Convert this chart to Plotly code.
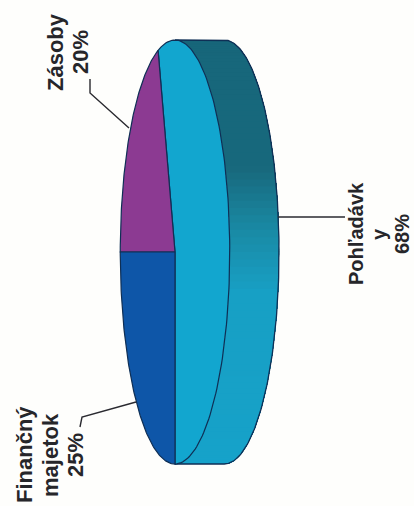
import numpy as np
import plotly.graph_objects as go

# Data
categories = ["Pohľadávky", "Zásoby", "Finančný majetok"]
drawn_shares = [55, 20, 25]          # share of the drawn slices
slice_colors = ["#12A6CF", "#8C3A92", "#0E56A8"]
outline = "#0F2F55"
paper = "#FEFEFC"

# Unit pie seen at a tilt and turned on its side
START_DEG = -90
DEPTH = 0.9
wall_stops = [(0.0, "#17667A"), (0.37, "#18697D"), (0.47, "#1A8BA6"), (0.56, "#18A0C5"), (1.0, "#16A3CB")]

W, H = 414, 506
CX, CY, RX, RY = 175, 252, 54.75, 212


def hex_rgb(c):
    return np.array([int(c[i:i + 2], 16) for i in (1, 3, 5)], float)


def wall_color(f):
    for (a, ca), (b, cb) in zip(wall_stops, wall_stops[1:]):
        if f <= b:
            m = (f - a) / (b - a)
            r = hex_rgb(ca) * (1 - m) + hex_rgb(cb) * m
            return "rgb(%d,%d,%d)" % tuple(r)
    return wall_stops[-1][1]


fig = go.Figure()

# Side wall: each layer reaches to the bottom and is painted over the last, so no seams show
edges = np.linspace(90, -90, 91)
for i in range(len(edges) - 1):
    t = np.radians(np.linspace(edges[i], -90, 60))
    xs = np.concatenate([np.cos(t), np.cos(t[::-1]) + DEPTH])
    ys = np.concatenate([np.sin(t), np.sin(t[::-1])])
    c = wall_color(i / (len(edges) - 2))
    fig.add_trace(go.Scatter(x=xs, y=ys, mode="none", fill="toself", fillcolor=c,
                             hoverinfo="skip", showlegend=False))

# Outer outline of the wall
t = np.radians(np.linspace(90, -90, 181))
fig.add_trace(go.Scatter(x=np.concatenate([[0], np.cos(t) + DEPTH, [0]]),
                         y=np.concatenate([[1], np.sin(t), [-1]]),
                         mode="lines", line=dict(color=outline, width=1.3),
                         hoverinfo="skip", showlegend=False))

# Slices on the top face
angle = START_DEG
for name, share, color in zip(categories, drawn_shares, slice_colors):
    sweep = share / sum(drawn_shares) * 360
    t = np.radians(np.linspace(angle, angle + sweep, 120))
    fig.add_trace(go.Scatter(x=np.concatenate([[0], np.cos(t), [0]]),
                             y=np.concatenate([[0], np.sin(t), [0]]),
                             mode="lines", fill="toself", fillcolor=color, name=name,
                             line=dict(color=outline, width=1.2), showlegend=False))
    angle += sweep

# Labels: (lines, centre x px of each line, centre y px, font size)
labels = [
    (["Zásoby", "20%"], [56, 81], 52, 22),
    (["Pohľadávk", "y", "68%"], [356, 379, 402], 234, 20),
    (["Finančný", "majetok", "25%"], [24, 50, 75], 455, 22),
]
annotations = []
for lines, xpx, ypx, size in labels:
    for line, x in zip(lines, xpx):
        annotations.append(dict(text="<b>" + line + "</b>", xref="paper", yref="paper",
                                x=x / W, y=1 - ypx / H,
                                xanchor="center", yanchor="middle", textangle=-90, showarrow=False,
                                font=dict(family="Liberation Sans", size=size, color="#26262A")))


def leader(points):
    d = "M " + " L ".join("%.4f %.4f" % (x / W, 1 - y / H) for x, y in points)
    return dict(type="path", path=d, xref="paper", yref="paper",
                line=dict(color="#2A2A30", width=1.4))


leaders = [
    [(129, 128), (90, 93), (90, 79)],
    [(278, 217), (345, 217)],
    [(136, 402), (82, 417), (80, 427)],
]

fig.update_layout(
    width=W, height=H, autosize=False,
    margin=dict(l=0, r=0, t=0, b=0),
    paper_bgcolor=paper, plot_bgcolor=paper,
    xaxis=dict(range=[-CX / RX, (W - CX) / RX], visible=False, fixedrange=True),
    yaxis=dict(range=[-(H - CY) / RY, CY / RY], visible=False, fixedrange=True),
    annotations=annotations,
    shapes=[leader(p) for p in leaders],
)
fig.write_html("out.html", config={"displayModeBar": False},
               post_script="document.body.style.margin='0';document.body.style.overflow='hidden';")
